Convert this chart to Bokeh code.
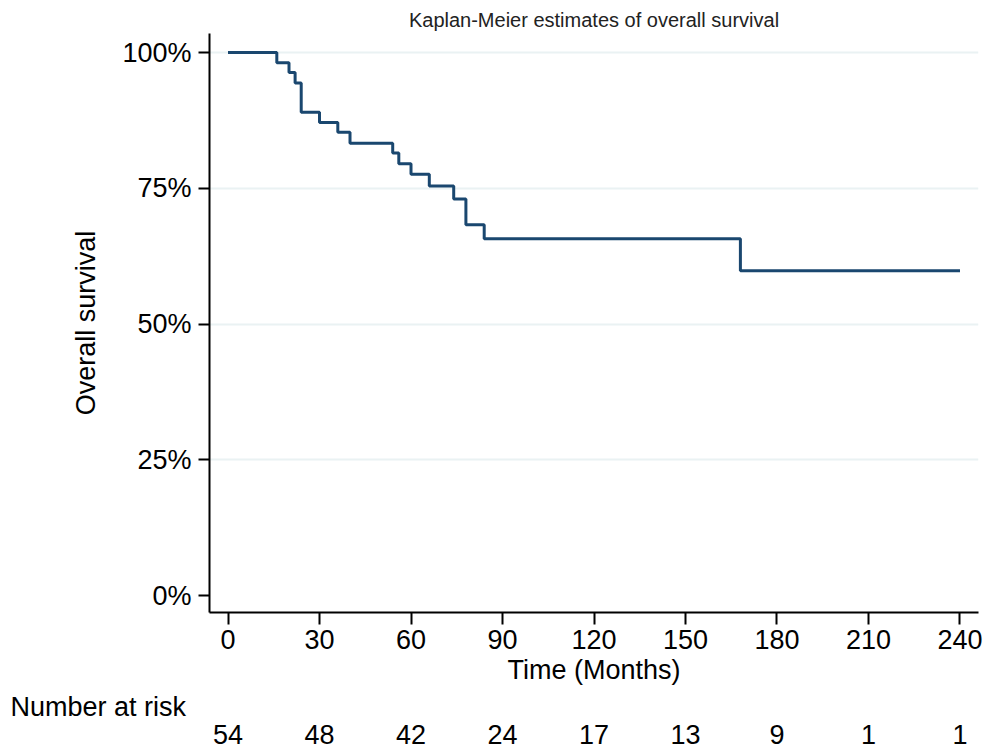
from bokeh.plotting import figure
from bokeh.models import FixedTicker, Range1d, LinearAxis, Title
from bokeh.embed import file_html
from bokeh.resources import INLINE

# ---- data ----
times = [0, 16, 20, 22, 24, 30, 36, 40, 54, 56, 60, 66, 74, 78, 84, 168, 240]
survival = [100, 98.1, 96.3, 94.4, 89.0, 87.1, 85.3, 83.3, 81.5, 79.5,
            77.6, 75.4, 73.0, 68.3, 65.7, 59.8, 59.8]
risk_times = [0, 30, 60, 90, 120, 150, 180, 210, 240]
risk_numbers = [54, 48, 42, 24, 17, 13, 9, 1, 1]
y_ticks = [0, 25, 50, 75, 100]
y_tick_labels = ["0%", "25%", "50%", "75%", "100%"]
x_ticks = [0, 30, 60, 90, 120, 150, 180, 210, 240]

FONT = "Liberation Sans"

p = figure(width=985, height=752, output_backend="svg", toolbar_location=None,
           x_range=Range1d(-6.07, 246.07), y_range=Range1d(-3.13, 103.5),
           min_border_left=209, min_border_right=7, min_border_top=33,
           min_border_bottom=140)

p.title.text = "Kaplan-Meier estimates of overall survival"
p.title.text_font = FONT
p.title.text_font_size = "20px"
p.title.text_font_style = "normal"
p.title.text_color = "#222222"
p.title.align = "center"
p.title.standoff = 6

p.outline_line_color = None
p.background_fill_color = "white"
p.border_fill_color = "white"

p.xgrid.visible = False
p.ygrid.ticker = FixedTicker(ticks=[25, 50, 75, 100])
p.ygrid.grid_line_color = "#eaf2f3"
p.ygrid.grid_line_width = 2


def style_axis(ax):
    ax.axis_label_text_font = FONT
    ax.axis_label_text_font_size = "27px"
    ax.axis_label_text_font_style = "normal"
    ax.axis_label_text_color = "black"
    ax.major_label_text_font = FONT
    ax.major_label_text_font_size = "27px"
    ax.major_label_text_color = "black"
    ax.major_tick_in = 0
    ax.minor_tick_out = 0
    ax.minor_tick_in = 0
    ax.axis_line_width = 2
    ax.major_tick_line_width = 2
    ax.axis_line_color = "black"
    ax.major_tick_line_color = "black"


# x axis
xa = p.xaxis[0]
style_axis(xa)
xa.ticker = FixedTicker(ticks=x_ticks)
xa.axis_label = "Time (Months)"
xa.axis_label_standoff = 3
xa.major_label_standoff = 5
xa.major_tick_out = 12

# y axis
ya = p.yaxis[0]
style_axis(ya)
ya.ticker = FixedTicker(ticks=y_ticks)
ya.major_label_overrides = {t: l for t, l in zip(y_ticks, y_tick_labels)}
ya.axis_label = "Overall survival"
ya.axis_label_standoff = 18
ya.major_label_standoff = 7
ya.major_tick_out = 11

# survival curve
p.step(times, survival, mode="after", line_color="#1a476f", line_width=3)

# number at risk table: heading and counts under the time axis
risk_title = Title(text="Number at risk", align="left", offset=-199,
                   text_font=FONT, text_font_size="27px",
                   text_font_style="normal", text_color="black", standoff=5)
p.add_layout(risk_title, "below")

risk_axis = LinearAxis(ticker=FixedTicker(ticks=risk_times),
                       major_label_overrides={t: str(n) for t, n in
                                              zip(risk_times, risk_numbers)})
style_axis(risk_axis)
risk_axis.axis_line_color = None
risk_axis.major_tick_line_color = None
risk_axis.major_tick_out = 0
risk_axis.major_label_standoff = 0
p.add_layout(risk_axis, "below")

open("out.html", "w").write(file_html(p, INLINE))
